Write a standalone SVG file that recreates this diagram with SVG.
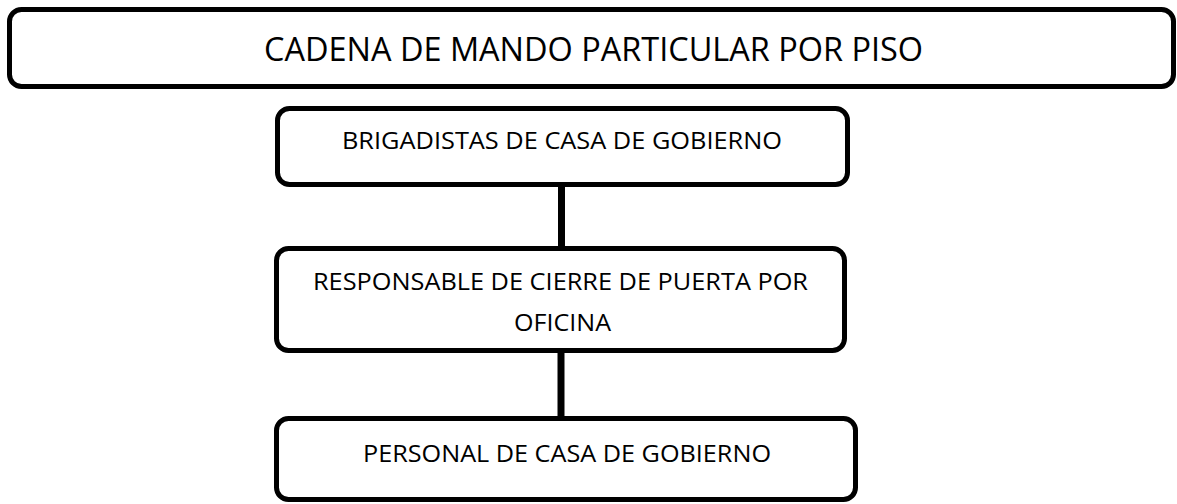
<svg xmlns="http://www.w3.org/2000/svg" width="1177" height="504" viewBox="0 0 1177 504">
<style>
  .box { fill: #ffffff; stroke: #000000; stroke-width: 5; }
  .lbl { font-family: "Open Sans", "Liberation Sans", sans-serif; fill: #000000; text-anchor: middle; }
  .t1 { font-size: 33px; }
  .t2 { font-size: 24.5px; }
  .conn { stroke: #000000; stroke-width: 7; }
  .tip { fill: #a0a0a0; }
</style>
<rect width="1177" height="504" fill="#ffffff"/>
<g id="connectors">
  <line class="conn" x1="561.5" y1="184" x2="561.5" y2="250"/>
  <rect class="tip" x="558" y="250" width="7" height="3"/>
  <line class="conn" x1="561" y1="350" x2="561" y2="423"/>
  <rect class="tip" x="557.5" y="423" width="7" height="4"/>
</g>
<g id="title">
  <rect class="box" x="9.5" y="9.5" width="1164" height="77" rx="12" ry="12"/>
  <text class="lbl t1" x="593.5" y="61" textLength="659" lengthAdjust="spacingAndGlyphs">CADENA DE MANDO PARTICULAR POR PISO</text>
</g>
<g id="brigadistas">
  <rect class="box" x="277.5" y="108.5" width="570" height="76" rx="12" ry="12"/>
  <text class="lbl t2" x="562" y="149" textLength="440" lengthAdjust="spacingAndGlyphs">BRIGADISTAS DE CASA DE GOBIERNO</text>
</g>
<g id="responsable">
  <rect class="box" x="276.5" y="248.5" width="568" height="102" rx="12" ry="12"/>
  <text class="lbl t2" x="560.5" y="290" textLength="495" lengthAdjust="spacingAndGlyphs">RESPONSABLE DE CIERRE DE PUERTA POR</text>
  <text class="lbl t2" x="562.5" y="331" textLength="97" lengthAdjust="spacingAndGlyphs">OFICINA</text>
</g>
<g id="personal">
  <rect class="box" x="276.5" y="418.5" width="579" height="81" rx="12" ry="12"/>
  <text class="lbl t2" x="567" y="462" textLength="408" lengthAdjust="spacingAndGlyphs">PERSONAL DE CASA DE GOBIERNO</text>
</g>
</svg>
